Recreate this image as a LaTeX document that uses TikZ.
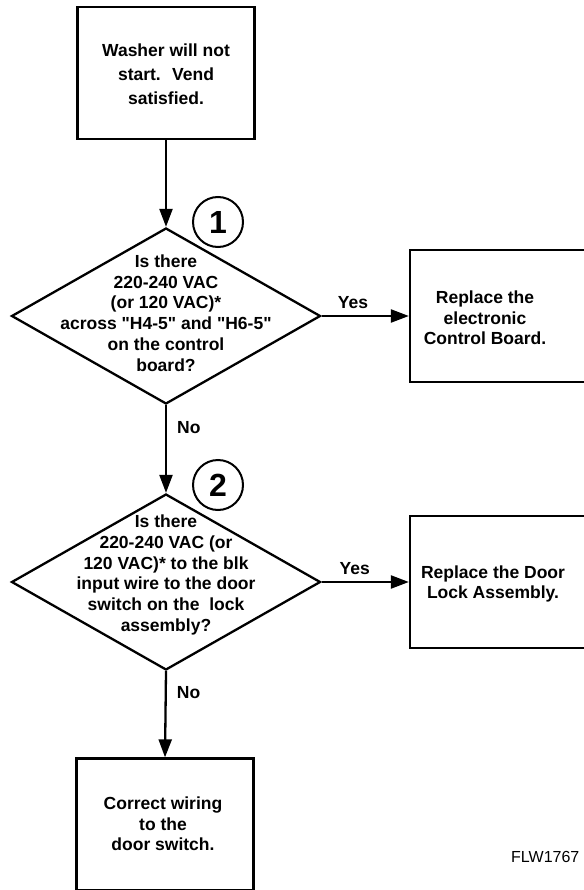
\documentclass[tikz,border=0pt]{standalone}
\usepackage{fontspec}
\setmainfont{Liberation Sans}[Ligatures=TeXOff]
\usetikzlibrary{arrows.meta,shapes.geometric}
\begin{document}
\begin{tikzpicture}[x=1pt,y=-1pt,
  box/.style={draw, line width=2.3pt, minimum width=177pt, minimum height=132pt, inner sep=0pt},
  dia/.style={draw, diamond, line width=2.3pt, minimum width=309pt, minimum height=176pt, inner sep=0pt},
  txt/.style={font=\fontsize{17.5}{20.7}\selectfont\bfseries, align=center, inner sep=0pt},
  lbl/.style={font=\fontsize{17.5}{20.7}\selectfont\bfseries, inner sep=0pt},
  num/.style={draw, circle, line width=2pt, minimum size=50pt, inner sep=0pt, font=\fontsize{32}{32}\selectfont\bfseries},
  arr/.style={-{Triangle[length=18pt,width=13pt]}, line width=2.3pt}]
\useasboundingbox (0,0) rectangle (583,890);

% boxes
\node[box] (start) at (166,73) {};
\node[txt, font=\fontsize{17.5}{24}\selectfont\bfseries] (startt) at (166,74) {Washer will not\\start.~ Vend\\satisfied.};

\node[dia] (d1) at (166,316) {};
\node[txt] (d1t) at (166,313) {Is there\\220-240 VAC\\(or 120 VAC)*\\across "H4-5" and "H6-5"\\on the control\\board?};
\node[num] (c1) at (218,222) {1};

\node[box] (r1) at (498.5,316) {};
\node[txt] (r1t) at (485,318) {Replace the\\electronic\\Control Board.};

\node[dia] (d2) at (166,582) {};
\node[txt] (d2t) at (166,575) {Is there\\220-240 VAC (or\\120 VAC)* to the blk\\input wire to the door\\switch on the~ lock\\assembly?};
\node[num] (c2) at (218,485) {2};

\node[box] (r2) at (498.5,582) {};
\node[txt] (r2t) at (493,584) {Replace the Door\\Lock Assembly.};

\node[box] (fin) at (165,824.5) {};
\node[txt] (fint) at (163,824) {Correct wiring\\to the\\door switch.};

% connectors
\draw[arr] (start.south) -- (d1.north);
\draw[arr] (d1.east) -- node[lbl, above=6pt, pos=0.36] (y1) {Yes} (r1.west);
\draw[arr] (d1.south) -- node[lbl, right=10pt, pos=0.25] (n1) {No} (d2.north);
\draw[arr] (d2.east) -- node[lbl, above=6pt, pos=0.38] (y2) {Yes} (r2.west);
\draw[arr] (d2.south) -- node[lbl, right=10pt, pos=0.25] (n2) {No} (fin.north);

\node[anchor=west, inner sep=0pt, font=\fontsize{16}{16}\selectfont] (code) at (511,857) {FLW1767};
\end{tikzpicture}
\end{document}
